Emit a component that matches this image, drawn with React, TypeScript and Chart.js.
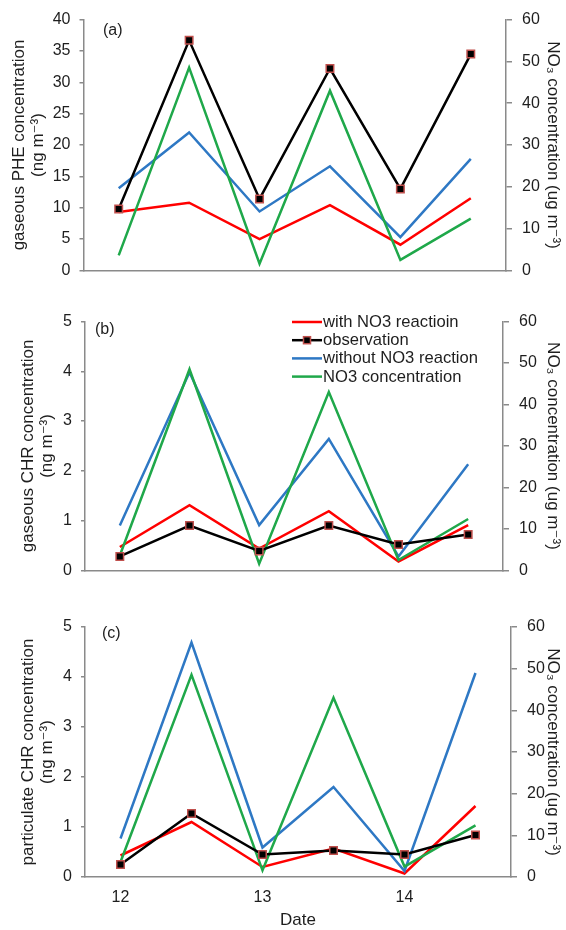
import React, { useEffect, useRef } from 'react';
import { Chart, registerables } from 'chart.js';
Chart.register(...registerables);

// ---- data ----
const dates = [12, 12.5, 13, 13.5, 14, 14.5];
const dateTicks = [12, 13, 14];
const seriesNames = ['with NO3 reactioin', 'observation', 'without NO3 reaction', 'NO3 concentration'];
const no3Concentration = [3.6, 48.5, 1.6, 43.0, 2.5, 12.4];

const pheWithNO3 = [9.3, 10.8, 5.0, 10.4, 4.1, 11.5];
const pheObservation = [9.8, 36.7, 11.4, 32.2, 13.0, 34.5];
const pheWithoutNO3 = [13.1, 22.0, 9.4, 16.6, 5.3, 17.8];

const gasChrWithNO3 = [0.47, 1.31, 0.44, 1.19, 0.18, 0.91];
const gasChrObservation = [0.28, 0.9, 0.39, 0.9, 0.52, 0.72];
const gasChrWithoutNO3 = [0.9, 3.98, 0.91, 2.64, 0.28, 2.13];

const partChrWithNO3 = [0.43, 1.1, 0.2, 0.57, 0.07, 1.42];
const partChrObservation = [0.25, 1.27, 0.45, 0.53, 0.45, 0.84];
const partChrWithoutNO3 = [0.77, 4.69, 0.59, 1.8, 0.12, 4.08];

const rightTitle = 'NO\u2083 concentration (ug m\u207B\u00B3)';

// ---- styles ----
const FONT = '"Liberation Sans", Arial, "DejaVu Sans", sans-serif';
const TEXT = '#1e1e1e';
const AXIS = '#8a8a8a';
const RED = '#ff0000';
const BLACK = '#000000';
const BLUE = '#2e78c4';
const GREEN = '#1fa84a';
const MARKER_EDGE = '#c0504d';
const W = 566;

type PanelCfg = {
  tag: string;
  leftTitle: string[];
  leftMax: number;
  leftStep: number;
  withArr: number[];
  obsArr: number[];
  withoutArr: number[];
  top: number;
  height: number;
  areaLeft: number;
  areaRight: number;
  areaTop: number;
  areaBottom: number;
  showX: boolean;
  titlePad: number;
  tagDx: number;
  tagDy: number;
  legend: boolean;
};

const toPts = (arr: number[]) => arr.map((v, i) => ({ x: dates[i], y: v }));

function Panel({ cfg }: { cfg: PanelCfg }) {
  const ref = useRef<HTMLCanvasElement | null>(null);
  useEffect(() => {
    if (!ref.current) return;
    const tickFont = { family: FONT, size: 16 };
    const titleFont = { family: FONT, size: 17, lineHeight: 1.1 };
    const overlay = {
      id: 'overlay' + cfg.tag,
      afterDatasetsDraw(chart: any) {
        const ctx = chart.ctx;
        const a = chart.chartArea;
        ctx.save();
        ctx.fillStyle = TEXT;
        ctx.font = `16px ${FONT}`;
        ctx.textAlign = 'left';
        ctx.textBaseline = 'middle';
        ctx.fillText(cfg.tag, a.left + cfg.tagDx, a.top + cfg.tagDy);
        if (cfg.legend) {
          const x0 = a.right - 211;
          const y0 = a.top + 0.5;
          const rowH = 18.2;
          const colors = [RED, BLACK, BLUE, GREEN];
          seriesNames.forEach((name, i) => {
            const y = y0 + i * rowH;
            ctx.strokeStyle = colors[i];
            ctx.lineWidth = 2.5;
            ctx.beginPath();
            ctx.moveTo(x0, y);
            ctx.lineTo(x0 + 30, y);
            ctx.stroke();
            if (i === 1) {
              ctx.fillStyle = BLACK;
              ctx.fillRect(x0 + 11.5, y - 3.5, 7, 7);
              ctx.strokeStyle = MARKER_EDGE;
              ctx.lineWidth = 1.5;
              ctx.strokeRect(x0 + 11.5, y - 3.5, 7, 7);
            }
            ctx.fillStyle = TEXT;
            ctx.font = `16.6px ${FONT}`;
            ctx.fillText(name, x0 + 31, y + 0.5);
          });
        }
        ctx.restore();
      },
    };
    const chart = new Chart(ref.current, {
      type: 'line',
      data: {
        datasets: [
          { label: seriesNames[0], data: toPts(cfg.withArr), borderColor: RED, borderWidth: 2.5, pointRadius: 0, yAxisID: 'y', order: 3 },
          {
            label: seriesNames[1], data: toPts(cfg.obsArr), borderColor: BLACK, borderWidth: 2.5, yAxisID: 'y', order: 0,
            pointStyle: 'rect', pointRadius: 5.3, pointBackgroundColor: BLACK, pointBorderColor: MARKER_EDGE, pointBorderWidth: 1.5,
          },
          { label: seriesNames[2], data: toPts(cfg.withoutArr), borderColor: BLUE, borderWidth: 2.5, pointRadius: 0, yAxisID: 'y', order: 2 },
          { label: seriesNames[3], data: toPts(no3Concentration), borderColor: GREEN, borderWidth: 2.5, pointRadius: 0, yAxisID: 'y1', order: 1 },
        ] as any,
      },
      options: {
        responsive: false,
        animation: false,
        devicePixelRatio: 1,
        layout: { padding: { top: cfg.areaTop, left: 0, right: 0, bottom: 0 } },
        plugins: { legend: { display: false }, tooltip: { enabled: false } },
        elements: { line: { tension: 0 } },
        scales: {
          x: {
            type: 'linear',
            min: 11.75,
            max: 14.75,
            afterBuildTicks: (s: any) => { s.ticks = dateTicks.map((v) => ({ value: v })); },
            afterFit: (s: any) => { s.height = cfg.height - cfg.areaBottom; },
            grid: { display: false, drawTicks: false },
            border: { display: true, color: AXIS, width: 1.5 },
            ticks: { display: cfg.showX, padding: 11, font: tickFont, color: TEXT, maxRotation: 0, callback: (v: any) => String(v) },
            title: { display: cfg.showX, text: 'Date', font: titleFont, color: TEXT, padding: { top: 0, bottom: 0 } },
          },
          y: {
            position: 'left',
            min: 0,
            max: cfg.leftMax,
            afterFit: (s: any) => { s.width = cfg.areaLeft; },
            ticks: { stepSize: cfg.leftStep, padding: 9, font: tickFont, color: TEXT },
            grid: { display: true, drawOnChartArea: false, drawTicks: true, tickLength: 4, color: AXIS, lineWidth: 1.5 },
            border: { display: true, color: AXIS, width: 1.5 },
            title: { display: true, text: cfg.leftTitle, font: titleFont, color: TEXT, padding: { top: cfg.titlePad, bottom: 0 } },
          },
          y1: {
            position: 'right',
            min: 0,
            max: 60,
            afterFit: (s: any) => { s.width = W - cfg.areaRight; },
            ticks: { stepSize: 10, padding: 10, font: tickFont, color: TEXT },
            grid: { display: true, drawOnChartArea: false, drawTicks: true, tickLength: 6, color: AXIS, lineWidth: 1.5 },
            border: { display: true, color: AXIS, width: 1.5 },
            title: { display: true, text: rightTitle, font: titleFont, color: TEXT, padding: { top: 3.6, bottom: 0 } },
          },
        },
      } as any,
      plugins: [overlay],
    });
    return () => chart.destroy();
  }, [cfg]);
  return (
    <div style={{ position: 'absolute', left: 0, top: cfg.top, width: W, height: cfg.height }}>
      <canvas ref={ref} width={W} height={cfg.height} style={{ display: 'block' }} />
    </div>
  );
}

const panels: PanelCfg[] = [
  {
    tag: '(a)', leftTitle: ['gaseous PHE concentration', '(ng m\u207B\u00B3)'], leftMax: 40, leftStep: 5,
    withArr: pheWithNO3, obsArr: pheObservation, withoutArr: pheWithoutNO3,
    top: 0, height: 290, areaLeft: 83.5, areaRight: 506, areaTop: 18.5, areaBottom: 272.5,
    showX: false, titlePad: 10, tagDx: 19.5, tagDy: 10.5, legend: false,
  },
  {
    tag: '(b)', leftTitle: ['gaseous CHR concentration', '(ng m\u207B\u00B3)'], leftMax: 5, leftStep: 1,
    withArr: gasChrWithNO3, obsArr: gasChrObservation, withoutArr: gasChrWithoutNO3,
    top: 300, height: 290, areaLeft: 85, areaRight: 503, areaTop: 21.5, areaBottom: 276,
    showX: false, titlePad: 19, tagDx: 10, tagDy: 8.5, legend: true,
  },
  {
    tag: '(c)', leftTitle: ['particulate CHR concentration', '(ng m\u207B\u00B3)'], leftMax: 5, leftStep: 1,
    withArr: partChrWithNO3, obsArr: partChrObservation, withoutArr: partChrWithoutNO3,
    top: 600, height: 330, areaLeft: 85, areaRight: 511, areaTop: 27, areaBottom: 277,
    showX: true, titlePad: 19, tagDx: 17, tagDy: 6.5, legend: false,
  },
];

export default function App() {
  return (
    <div style={{ position: 'absolute', left: 0, top: 0, width: W, height: 930, background: '#fff' }}>
      {panels.map((p) => (
        <Panel key={p.tag} cfg={p} />
      ))}
    </div>
  );
}
